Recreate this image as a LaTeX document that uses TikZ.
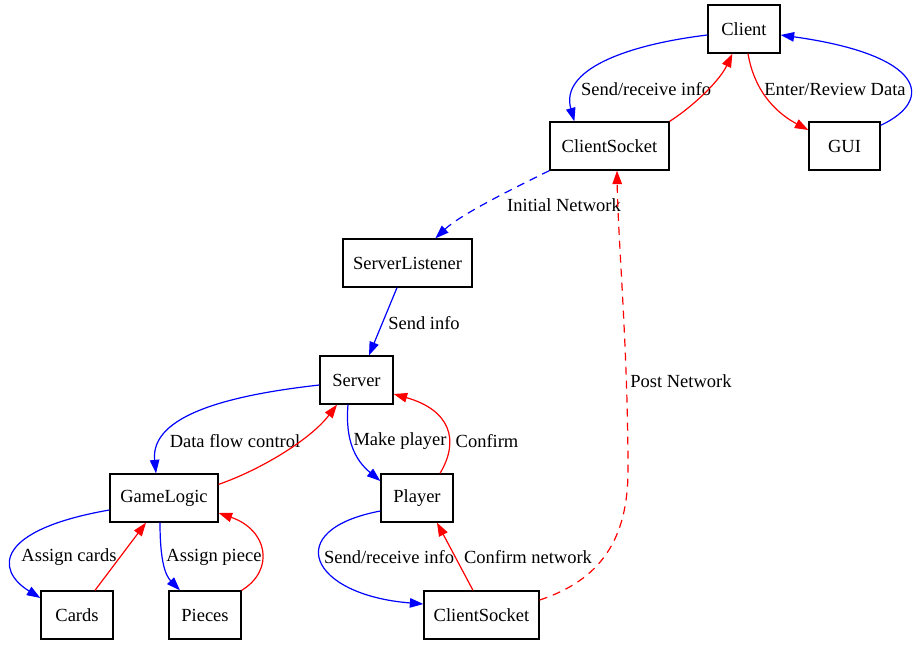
\documentclass[tikz,border=0pt]{standalone}
\usepackage{fontspec}
\setmainfont{Liberation Serif}
\usetikzlibrary{arrows.meta}
\begin{document}
\begin{tikzpicture}[x=1pt,y=-1pt,
  box/.style={draw=black,line width=1.3pt,inner sep=0pt,minimum height=48pt,font=\fontsize{18.5}{20}\selectfont},
  lbl/.style={inner sep=0pt,font=\fontsize{18.5}{20}\selectfont},
  edge/.style={line width=1.2pt},
  bl/.style={edge,draw=blue,{}-{Triangle[length=13.5pt,width=9.5pt,fill=blue]}},
  rd/.style={edge,draw=red,{}-{Triangle[length=13.5pt,width=9.5pt,fill=red]}},
  dsh/.style={dash pattern=on 8pt off 6pt}]
\useasboundingbox[fill=white] (0,0) rectangle (923,645);
% nodes
\node[box,minimum width=72pt] (client) at (744,29) {Client};
\node[box,minimum width=119pt] (cs1) at (609.5,146) {ClientSocket};
\node[box,minimum width=71pt] (gui) at (844.5,146) {GUI};
\node[box,minimum width=129pt] (sl) at (407.5,263) {ServerListener};
\node[box,minimum width=73pt] (server) at (356.5,380) {Server};
\node[box,minimum width=108pt] (gl) at (164,498) {GameLogic};
\node[box,minimum width=72pt] (player) at (417,498) {Player};
\node[box,minimum width=72pt] (cards) at (77,615) {Cards};
\node[box,minimum width=72pt] (pieces) at (205,615) {Pieces};
\node[box,minimum width=115pt] (cs2) at (481.5,615) {ClientSocket};
% labels
\node[lbl] (l1) at (646,89) {Send/receive info};
\node[lbl] (l2) at (835,89) {Enter/Review Data};
\node[lbl] (l3) at (564,205) {Initial Network};
\node[lbl] (l4) at (424,323) {Send info};
\node[lbl] (l5) at (681,381) {Post Network};
\node[lbl] (l6) at (235,441) {Data flow control};
\node[lbl] (l7) at (400,441) {Make player};
\node[lbl] (l8) at (487,441) {Confirm};
\node[lbl] (l9) at (69,557) {Assign cards};
\node[lbl] (l10) at (214,557) {Assign piece};
\node[lbl] (l11) at (389,557) {Send/receive info};
\node[lbl] (l12) at (528,557) {Confirm network};
% edges
\draw[bl] ([yshift=-6pt]client.west) .. controls (625,45) and (560,70) .. ([xshift=25pt]cs1.north west);
\draw[rd] (cs1.north east) .. controls (695,105) and (720,80) .. ([xshift=25pt]client.south west);
\draw[rd] ([xshift=4pt]client.south) .. controls (755,95) and (780,115) .. ([yshift=16pt]gui.west);
\draw[bl] ([yshift=-4pt]gui.north east) .. controls (935,100) and (925,55) .. ([yshift=-6pt]client.east);
\draw[bl,dsh] (cs1.south west) .. controls (510,190) and (460,215) .. ([xshift=93pt]sl.north west);
\draw[rd,dsh] ([yshift=15pt]cs2.east) .. controls (600,580) and (628,540) .. (628,470) .. controls (628,350) and (618,240) .. ([xshift=7.5pt]cs1.south);
\draw[bl] ([xshift=-10.5pt]sl.south) -- ([xshift=12.5pt]server.north);
\draw[bl] ([yshift=-5pt]server.west) .. controls (230,395) and (150,415) .. ([xshift=-8pt]gl.north);
\draw[rd] ([yshift=-11pt]gl.north east) .. controls (260,470) and (310,440) .. ([xshift=-19.5pt]server.south);
\draw[bl] ([xshift=-8.5pt]server.south) .. controls (345,440) and (355,460) .. ([yshift=17pt]player.west);
\draw[rd] ([xshift=23pt]player.north) .. controls (460,440) and (450,410) .. ([yshift=-14pt]server.east);
\draw[bl] ([yshift=-12pt]gl.west) .. controls (-5,530) and (-5,570) .. ([yshift=17pt]cards.west);
\draw[rd] ([xshift=18pt]cards.north) -- ([xshift=-18pt]gl.south);
\draw[bl] ([xshift=-4pt]gl.south) .. controls (160,560) and (165,575) .. ([xshift=-25pt]pieces.north);
\draw[rd] (pieces.north east) .. controls (275,570) and (268,530) .. ([yshift=-15pt]gl.east);
\draw[bl] ([yshift=-13pt]player.west) .. controls (280,530) and (310,595) .. ([yshift=11pt]cs2.west);
\draw[rd] ([xshift=-8.5pt]cs2.north) -- ([xshift=20pt]player.south);
\end{tikzpicture}
\end{document}
